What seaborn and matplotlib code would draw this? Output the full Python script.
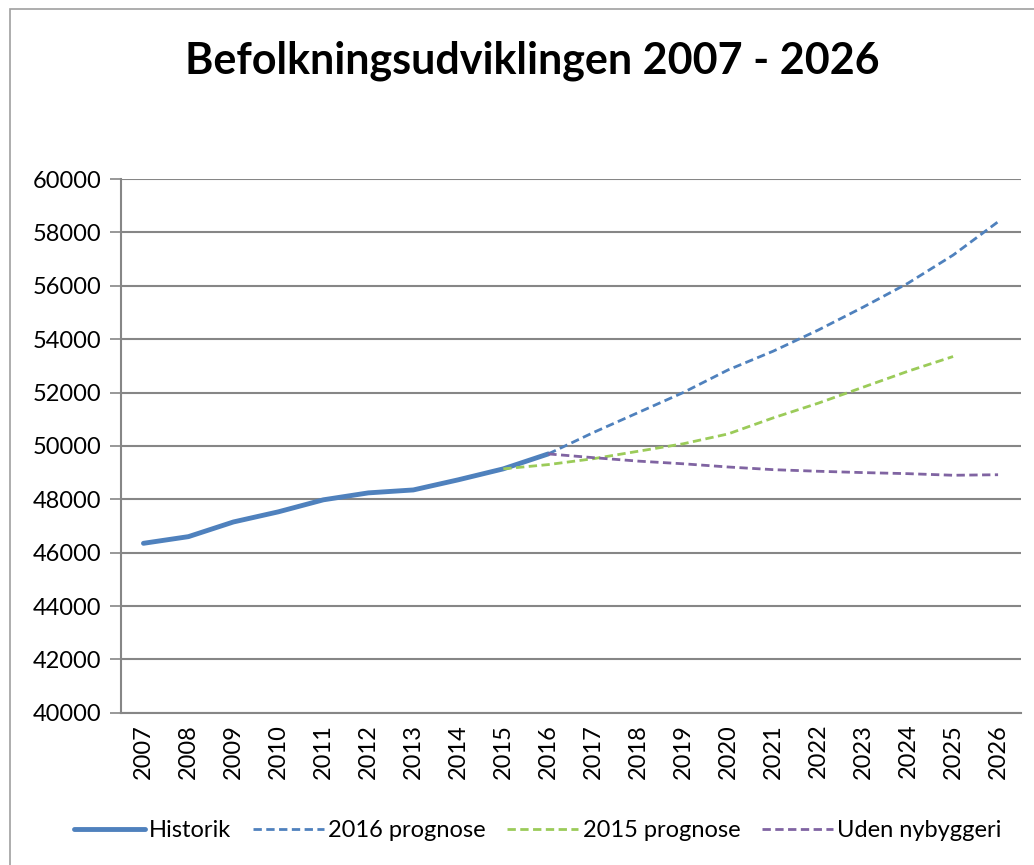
import numpy as np
import pandas as pd
import seaborn as sns
from matplotlib import pyplot as plt
from matplotlib.patches import Rectangle

years = list(range(2007, 2027))

historik = [46350, 46600, 47150, 47530, 47980, 48240, 48350, 48730, 49140, 49700]
prognose_2016 = [49700, 50500, 51250, 52000, 52850, 53550, 54340, 55200, 56100, 57150, 58400]
prognose_2015 = [49140, 49300, 49520, 49800, 50080, 50450, 51050, 51600, 52200, 52800, 53350]
uden_nybyggeri = [49700, 49560, 49430, 49330, 49210, 49110, 49050, 49000, 48960, 48900, 48920]

series = {
    'Historik': (years[:10], historik),
    '2016 prognose': (years[9:], prognose_2016),
    '2015 prognose': (years[8:19], prognose_2015),
    'Uden nybyggeri': (years[9:], uden_nybyggeri),
}
colors = {'Historik': '#4F81BD', '2016 prognose': '#4F81BD',
          '2015 prognose': '#9BCB59', 'Uden nybyggeri': '#8064A2'}

sns.set_style('white')
plt.rcParams['font.family'] = ['Lato', 'DejaVu Sans']
plt.rcParams['text.color'] = 'black'

fig = plt.figure(figsize=(10.34, 8.65), dpi=100)
ax = fig.add_axes([0.117, 0.176, 0.87, 0.617])

# chart frame like Excel
fig.patches.append(Rectangle((0.01, -0.1), 1.2, 1.09, transform=fig.transFigure,
                             fill=False, edgecolor='#A0A0A0', lw=1.2))

for name, (xs, ys) in series.items():
    df = pd.DataFrame({'pos': [years.index(y) for y in xs], 'val': ys})
    if name == 'Historik':
        sns.lineplot(data=df, x='pos', y='val', ax=ax, color=colors[name], lw=3.5, label=name)
    else:
        sns.lineplot(data=df, x='pos', y='val', ax=ax, color=colors[name], lw=2,
                     dashes=False, linestyle=(0, (3, 1.6)), label=name)

ax.set_xlim(-0.5, len(years) - 0.5)
ax.set_ylim(40000, 60000)
ax.set_yticks(np.arange(40000, 60001, 2000))
ax.set_yticklabels([str(v) for v in range(40000, 60001, 2000)], fontsize=17, color='black')
ax.set_xticks(range(len(years)))
ax.set_xticklabels([str(y) for y in years], rotation=90, fontsize=17, color='black')
ax.set_xticks(np.arange(-0.5, len(years), 1), minor=True)
ax.tick_params(axis='x', which='major', length=0, pad=8)
ax.tick_params(axis='x', which='minor', length=8, color='#868686', width=1.2, direction='out')
ax.tick_params(axis='y', length=8, color='#868686', width=1.2, direction='out', left=True, pad=6)
ax.set_xlabel('')
ax.set_ylabel('')

ax.grid(axis='y', color='#868686', lw=1.5)
ax.grid(axis='x', visible=False)
for side in ['top', 'right']:
    ax.spines[side].set_visible(False)
for side in ['left', 'bottom']:
    ax.spines[side].set_color('#868686')
    ax.spines[side].set_linewidth(1.5)

fig.text(0.515, 0.93, 'Befolkningsudviklingen 2007 - 2026', ha='center', va='center',
         fontsize=31, fontweight='bold', color='black')

handles, labels = ax.get_legend_handles_labels()
ax.legend(handles, labels, loc='center', bbox_to_anchor=(0.52, 0.04), bbox_transform=fig.transFigure,
          ncol=4, frameon=False, fontsize=17, handlelength=3, handletextpad=0.2, columnspacing=0.9)

fig.savefig('out.png', dpi=100)
